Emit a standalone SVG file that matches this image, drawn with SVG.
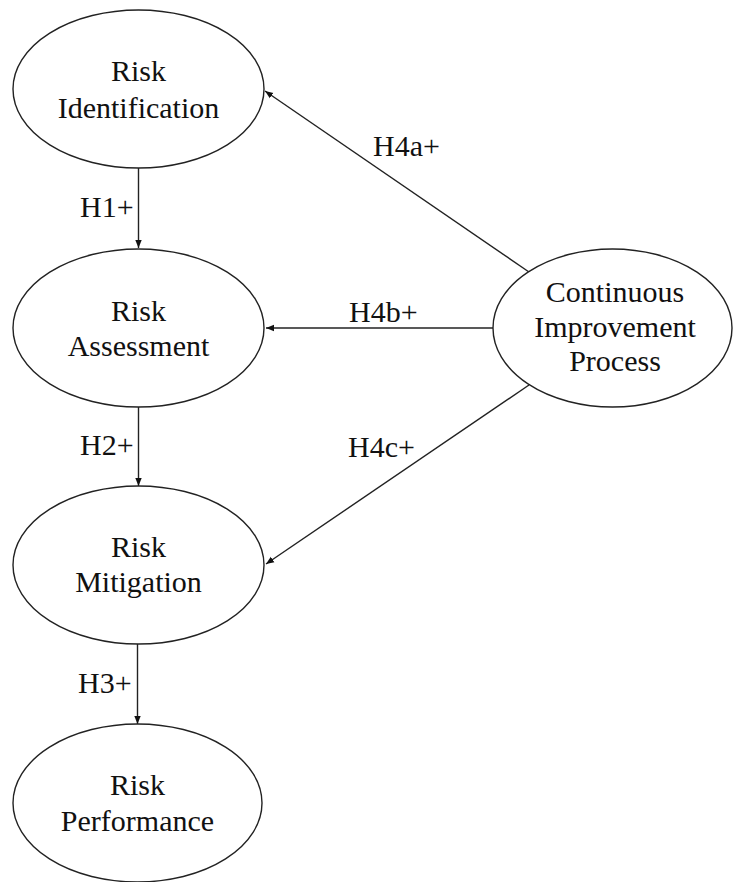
<svg xmlns="http://www.w3.org/2000/svg" width="733" height="882" viewBox="0 0 733 882" font-family="Liberation Serif, Times New Roman, serif">
<style>
.n{fill:#fff;stroke:#222;stroke-width:1.4}
text{font-size:30px;fill:#111}
.t{text-anchor:middle}
.c{stroke:#222;stroke-width:1.4;fill:none;marker-end:url(#ah)}
</style>
<defs>
<marker id="ah" markerUnits="userSpaceOnUse" markerWidth="10" markerHeight="8" refX="8" refY="4" orient="auto">
<path d="M0,0.8 L8,4 L0,7.2 Z" fill="#111"/>
</marker>
</defs>
<rect width="733" height="882" fill="#fff"/>
<g id="connectors">
<line class="c" x1="138.5" y1="168" x2="138.5" y2="248"/>
<line class="c" x1="138.5" y1="407" x2="138.5" y2="486"/>
<line class="c" x1="137.5" y1="644" x2="137.5" y2="724"/>
<line class="c" x1="529" y1="272" x2="265" y2="91"/>
<line class="c" x1="493" y1="328" x2="266" y2="328"/>
<line class="c" x1="529" y1="385" x2="266" y2="564"/>
<text x="80" y="217">H1+</text>
<text x="80" y="455">H2+</text>
<text x="78" y="693">H3+</text>
<text x="373" y="156">H4a+</text>
<text x="349" y="322">H4b+</text>
<text x="348" y="457">H4c+</text>
</g>
<g id="risk-identification">
<ellipse class="n" cx="138.5" cy="89" rx="125.5" ry="79"/>
<text class="t" x="138.5" y="81">Risk</text>
<text class="t" x="138.5" y="118">Identification</text>
</g>
<g id="risk-assessment">
<ellipse class="n" cx="138.5" cy="328" rx="125.5" ry="79"/>
<text class="t" x="138.5" y="321">Risk</text>
<text class="t" x="138.5" y="356">Assessment</text>
</g>
<g id="risk-mitigation">
<ellipse class="n" cx="138.5" cy="565" rx="125.5" ry="79"/>
<text class="t" x="138.5" y="557">Risk</text>
<text class="t" x="138.5" y="592">Mitigation</text>
</g>
<g id="risk-performance">
<ellipse class="n" cx="137.5" cy="803" rx="124.5" ry="79"/>
<text class="t" x="137.5" y="795">Risk</text>
<text class="t" x="137.5" y="831">Performance</text>
</g>
<g id="continuous-improvement-process">
<ellipse class="n" cx="612.5" cy="328" rx="119.5" ry="79"/>
<text class="t" x="615" y="302">Continuous</text>
<text class="t" x="615" y="337">Improvement</text>
<text class="t" x="615" y="371">Process</text>
</g>
</svg>
